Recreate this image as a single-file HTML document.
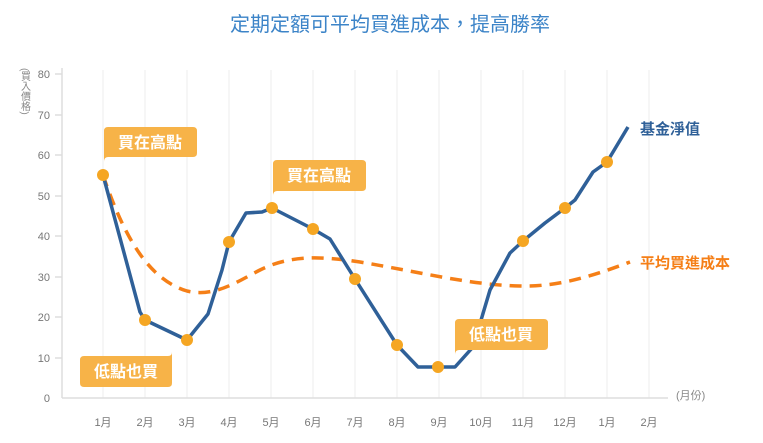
<!DOCTYPE html>
<html><head><meta charset="utf-8"><style>
body{margin:0;background:#fff;}
svg{display:block;font-family:"Liberation Sans","Noto Sans CJK TC",sans-serif;}
</style></head><body>
<svg width="763" height="443" viewBox="0 0 763 443">
<text x="390" y="31" text-anchor="middle" font-size="20" fill="#3c84c8">定期定額可平均買進成本，提高勝率</text>
<g stroke="#eeeeee" stroke-width="1">
<line x1="103" y1="70" x2="103" y2="398"/><line x1="145" y1="70" x2="145" y2="398"/><line x1="187" y1="70" x2="187" y2="398"/><line x1="229" y1="70" x2="229" y2="398"/><line x1="271" y1="70" x2="271" y2="398"/><line x1="313" y1="70" x2="313" y2="398"/><line x1="355" y1="70" x2="355" y2="398"/><line x1="397" y1="70" x2="397" y2="398"/><line x1="439" y1="70" x2="439" y2="398"/><line x1="481" y1="70" x2="481" y2="398"/><line x1="523" y1="70" x2="523" y2="398"/><line x1="565" y1="70" x2="565" y2="398"/><line x1="607" y1="70" x2="607" y2="398"/><line x1="649" y1="70" x2="649" y2="398"/>
</g>
<g stroke="#dddddd" stroke-width="1.5">
<line x1="62" y1="68" x2="62" y2="398"/><line x1="62" y1="398" x2="668" y2="398"/>
<line x1="55" y1="74" x2="62" y2="74"/><line x1="55" y1="115" x2="62" y2="115"/><line x1="55" y1="155" x2="62" y2="155"/><line x1="55" y1="196" x2="62" y2="196"/><line x1="55" y1="236" x2="62" y2="236"/><line x1="55" y1="277" x2="62" y2="277"/><line x1="55" y1="317" x2="62" y2="317"/><line x1="55" y1="358" x2="62" y2="358"/>
</g>
<g font-size="11" fill="#777" text-anchor="end">
<text x="50" y="78">80</text><text x="50" y="119">70</text><text x="50" y="159">60</text><text x="50" y="200">50</text><text x="50" y="240">40</text><text x="50" y="281">30</text><text x="50" y="321">20</text><text x="50" y="362">10</text><text x="50" y="402">0</text>
</g>
<text x="24" y="68" font-size="10" fill="#888" style="writing-mode:vertical-rl;glyph-orientation-vertical:0">(買入價格)</text>
<g font-size="11" fill="#777" text-anchor="middle">
<text x="103" y="426">1月</text><text x="145" y="426">2月</text><text x="187" y="426">3月</text><text x="229" y="426">4月</text><text x="271" y="426">5月</text><text x="313" y="426">6月</text><text x="355" y="426">7月</text><text x="397" y="426">8月</text><text x="439" y="426">9月</text><text x="481" y="426">10月</text><text x="523" y="426">11月</text><text x="565" y="426">12月</text><text x="607" y="426">1月</text><text x="649" y="426">2月</text>
</g>
<text x="676" y="399" font-size="11" fill="#888">(月份)</text>
<path d="M103,175 C125,240 150,280 187,291 C215,298 240,280 260,270 C290,255 320,256 360,262 C420,272 470,285 520,286 C560,287 595,275 630,262" fill="none" stroke="#f57f17" stroke-width="3.5" stroke-dasharray="12,8"/>
<polyline points="103,175 140,312 145,320 187,340 208,314 222,270 229,242 246,213 262,212 272,208 313,229 330,239 355,279 397,345 418,367 438,367 455,367 473,347 490,290 510,253 523,241 545,223 565,208 575,200 593,172 607,162 628,127" fill="none" stroke="#2f6098" stroke-width="3.5" stroke-linejoin="round"/>
<g fill="#f5a623">
<circle cx="103" cy="175" r="6"/><circle cx="145" cy="320" r="6"/><circle cx="187" cy="340" r="6"/><circle cx="229" cy="242" r="6"/><circle cx="272" cy="208" r="6"/><circle cx="313" cy="229" r="6"/><circle cx="355" cy="279" r="6"/><circle cx="397" cy="345" r="6"/><circle cx="438" cy="367" r="6"/><circle cx="523" cy="241" r="6"/><circle cx="565" cy="208" r="6"/><circle cx="607" cy="162" r="6"/>
</g>
<g fill="#f7b348">
<path d="M108,127 H193 Q197,127 197,131 V153 Q197,157 193,157 H108 Q104,157 104,162 V131 Q104,127 108,127Z"/>
<path d="M277,160 H362 Q366,160 366,164 V187 Q366,191 362,191 H277 Q273,191 273,196 V164 Q273,160 277,160Z"/>
<path d="M459,319 H544 Q548,319 548,323 V346 Q548,350 544,350 H459 Q455,350 455,355 V323 Q455,319 459,319Z"/>
<path d="M84,356 H168 Q172,356 172,352 V383 Q172,387 168,387 H84 Q80,387 80,383 V360 Q80,356 84,356Z"/>
</g>
<g font-size="16" fill="#fff" font-weight="bold" text-anchor="middle">
<text x="150" y="148">買在高點</text><text x="319" y="181">買在高點</text><text x="501" y="340">低點也買</text><text x="126" y="377">低點也買</text>
</g>
<text x="640" y="134" font-size="15" font-weight="bold" fill="#2f6098">基金淨值</text>
<text x="640" y="268" font-size="15" font-weight="bold" fill="#f57f17">平均買進成本</text>
</svg>
</body></html>
